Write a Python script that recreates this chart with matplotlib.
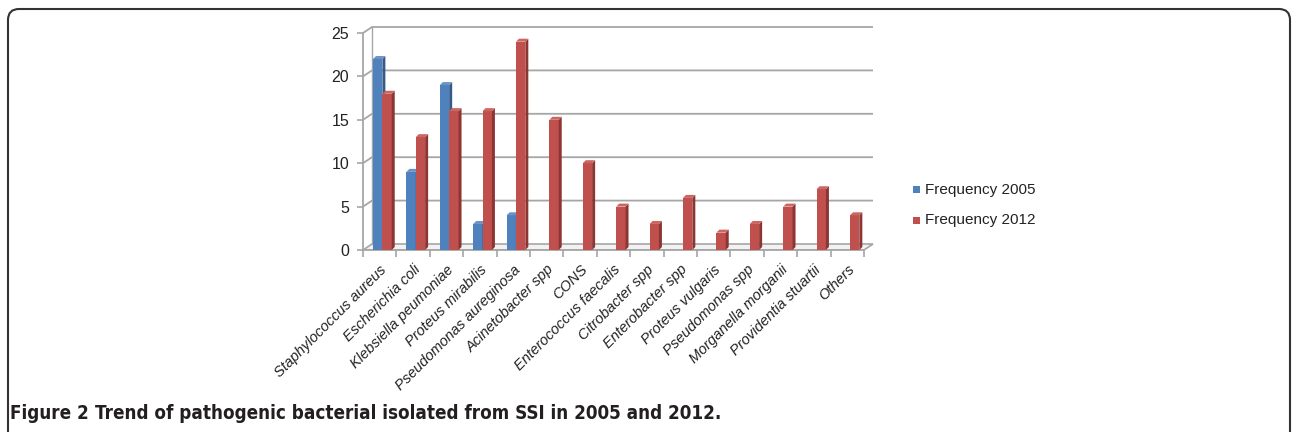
import matplotlib
matplotlib.use("Agg")
import matplotlib.pyplot as plt
from matplotlib.patches import Polygon, FancyBboxPatch, Rectangle
from matplotlib import font_manager

categories = ["Staphylococcus aureus", "Escherichia coli", "Klebsiella peumoniae",
              "Proteus mirabilis", "Pseudomonas aureginosa", "Acinetobacter spp",
              "CONS", "Enterococcus faecalis", "Citrobacter spp", "Enterobacter spp",
              "Proteus vulgaris", "Pseudomonas spp", "Morganella morganii",
              "Providentia stuartii", "Others"]
freq_2005 = [22, 9, 19, 3, 4, 0, 0, 0, 0, 0, 0, 0, 0, 0, 0]
freq_2012 = [18, 13, 16, 16, 24, 15, 10, 5, 3, 6, 2, 3, 5, 7, 4]
series_names = ["Frequency 2005", "Frequency 2012"]
y_ticks = [0, 5, 10, 15, 20, 25]
caption_bold = "Figure 2"
caption_text = "Trend of pathogenic bacterial isolated from SSI in 2005 and 2012."

base = "Liberation Sans"

W, H = 1292, 432
fig = plt.figure(figsize=(W / 100, H / 100), dpi=100)

# overlay in pixel coordinates for the outer frame
ov = fig.add_axes([0, 0, 1, 1])
ov.set_xlim(0, W)
ov.set_ylim(H, 0)
ov.axis("off")
ov.add_patch(FancyBboxPatch((8, 9), 1290 - 8, 460, boxstyle="round,pad=0,rounding_size=11",
                            fill=False, edgecolor="#333333", linewidth=1.5))

# axes geometry (pixels)
x0_px, y0_px = 363, 250
px_x = 33.4      # pixels per category
px_y = 8.68      # pixels per unit
xmax, ymax = 15.35, 25.75
ax = fig.add_axes([x0_px / W, (H - y0_px) / H, xmax * px_x / W, ymax * px_y / H])
ax.set_xlim(0, xmax)
ax.set_ylim(0, ymax)
ax.patch.set_alpha(0)

dx, dy = 9 / px_x, 6 / px_y          # wall depth
bdx, bdy = 3 / px_x, 3 / px_y        # bar depth
n = len(categories)
grid_c = "#a6a6a6"

# floor
floor = Polygon([(0, 0), (n, 0), (n + dx, dy), (dx, dy)], closed=True,
                facecolor="#f2f2f2", edgecolor=grid_c, linewidth=1.2, zorder=1)
ax.add_patch(floor)
# back wall gridlines with side-wall slant
for v in y_ticks[1:]:
    ax.plot([0, dx, n + dx], [v, v + dy, v + dy], color=grid_c, lw=1.3, zorder=1,
            solid_capstyle="butt")
ax.plot([dx, dx], [dy, y_ticks[-1] + dy], color=grid_c, lw=1.0, zorder=1)

colors = {
    0: ("#4f81bd", "#35598a", "#6b93c8"),
    1: ("#c0504d", "#8c3533", "#cd6663"),
}
bw = 0.28
offsets = [0.30, 0.58]
for s, vals in enumerate([freq_2005, freq_2012]):
    front, side, top = colors[s]
    xs = [i + offsets[s] for i in range(n)]
    hs = [v for v in vals]
    ax.bar(xs, hs, width=bw, align="edge", color=front, edgecolor="none", zorder=3)
    for x, h in zip(xs, hs):
        if h <= 0:
            continue
        ax.add_patch(Polygon([(x + bw, 0), (x + bw + bdx, bdy), (x + bw + bdx, h + bdy), (x + bw, h)],
                             closed=True, facecolor=side, edgecolor="none", zorder=3))
        ax.add_patch(Polygon([(x, h), (x + bdx, h + bdy), (x + bw + bdx, h + bdy), (x + bw, h)],
                             closed=True, facecolor=top, edgecolor="none", zorder=3))

# spines / ticks
for sp in ["top", "right"]:
    ax.spines[sp].set_visible(False)
ax.spines["left"].set_bounds(0, y_ticks[-1])
ax.spines["bottom"].set_bounds(0, n)
for sp in ["left", "bottom"]:
    ax.spines[sp].set_color(grid_c)
    ax.spines[sp].set_linewidth(1.3)
ax.set_yticks(y_ticks)
ax.set_yticklabels([str(v) for v in y_ticks], fontsize=11.5, family=base, color="#222222")
ax.tick_params(axis="y", length=4, width=1.2, color=grid_c, pad=6)
ax.set_xticks(range(n + 1))
ax.set_xticklabels([])
ax.tick_params(axis="x", which="major", length=5, width=1.2, color=grid_c)
ax.set_xticks([i + 0.5 for i in range(n)], minor=True)
ax.set_xticklabels(categories, minor=True, rotation=45, ha="right", va="top",
                   rotation_mode="anchor", fontsize=10.5, family=base, style="italic",
                   color="#222222")
ax.tick_params(axis="x", which="minor", length=0, pad=9)

# legend
for k, name in enumerate(series_names):
    yl = 190 + 30 * k
    fig.patches.append(Rectangle((913 / W, (H - yl - 3.5) / H), 7 / W, 7 / H,
                                 transform=fig.transFigure, facecolor=colors[k][0],
                                 edgecolor="none"))
    fig.text(925 / W, (H - yl) / H, name, fontsize=11, family=base, va="center",
             ha="left", color="#222222")

# caption (condensed where available; shrink to fit the reference width)
cap_y = (H - 419) / H
fs = 13.5
t1 = fig.text(10 / W, cap_y, caption_bold + " ", fontsize=fs, family="DejaVu Sans",
              fontstretch="condensed", weight="bold", va="baseline", ha="left",
              color="#231f20")
t2 = fig.text(0, cap_y, caption_text, fontsize=fs, family="DejaVu Sans",
              fontstretch="condensed", weight="bold", va="baseline", ha="left",
              color="#231f20")
fig.canvas.draw()
r = fig.canvas.get_renderer()
total = t1.get_window_extent(r).width + t2.get_window_extent(r).width
scale = min(1.0, 710 / total)
t1.set_fontsize(fs * scale)
t2.set_fontsize(fs * scale)
fig.canvas.draw()
t2.set_x(t1.get_window_extent(r).x1 / W)

fig.savefig("out.png", dpi=100)
